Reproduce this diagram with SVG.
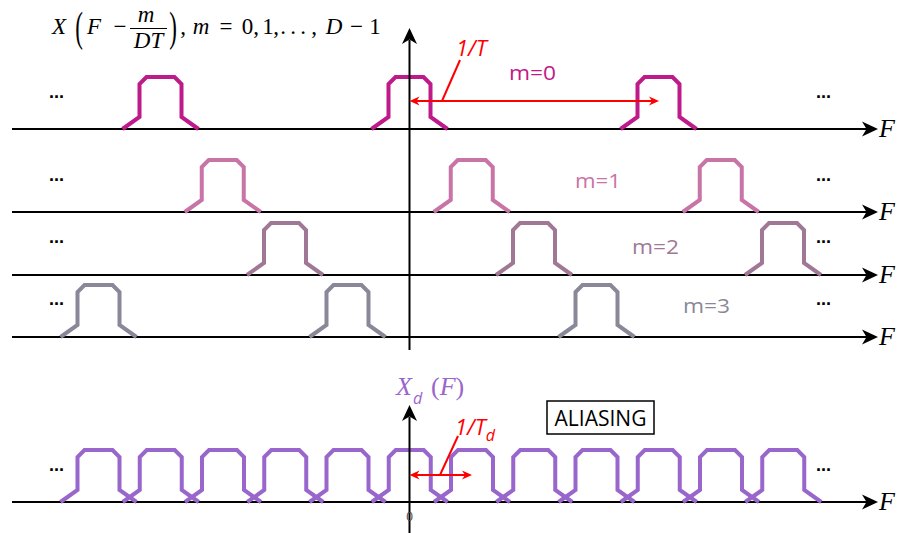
<svg xmlns="http://www.w3.org/2000/svg" xmlns:xlink="http://www.w3.org/1999/xlink" width="901" height="533" viewBox="0 0 901 533">
<style>
.ax{stroke:#000;stroke-width:2;fill:none}
.pl{fill:none;stroke-width:4;stroke-linejoin:miter}
.r0{stroke:#BF1A8A}.r1{stroke:#C874A6}.r2{stroke:#A07896}.r3{stroke:#898898}.rd{stroke:#9966CC}
.red{stroke:#FF0000;stroke-width:2;fill:none}
.mth{font-family:"Liberation Serif","DejaVu Serif",serif;font-size:23px;fill:#000;text-anchor:middle}
.it{font-style:italic}
.sans{font-family:"Open Sans","Liberation Sans",sans-serif}
.dots{font-family:"Liberation Sans",sans-serif;font-weight:bold;font-size:18px;fill:#000}
.FL{font-family:"Liberation Serif","DejaVu Serif",serif;font-style:italic;font-size:26px;fill:#000}
</style>
<defs>
<polyline id="pulse" points="-38,0 -21,-12 -21,-45 -14,-52 14,-52 21,-45 21,-12 38,0"/>
<path id="ah" d="M0,0 L-16,-7.5 L-11.5,0 L-16,7.5 Z" fill="#000"/>
<path id="rah" d="M0,0 L-10,-4.5 L-7,0 L-10,4.5 Z" fill="#FF0000"/>
</defs>

<g id="axes">
<line class="ax" x1="12" y1="129" x2="868" y2="129"/>
<use xlink:href="#ah" x="878" y="129"/>
<line class="ax" x1="12" y1="212" x2="868" y2="212"/>
<use xlink:href="#ah" x="878" y="212"/>
<line class="ax" x1="12" y1="275" x2="868" y2="275"/>
<use xlink:href="#ah" x="878" y="275"/>
<line class="ax" x1="12" y1="337" x2="868" y2="337"/>
<use xlink:href="#ah" x="878" y="337"/>
<line class="ax" x1="12" y1="502" x2="868" y2="502"/>
<use xlink:href="#ah" x="878" y="502"/>
<text class="FL" x="879" y="137">F</text>
<text class="FL" x="879" y="220">F</text>
<text class="FL" x="879" y="283">F</text>
<text class="FL" x="879" y="345">F</text>
<text class="FL" x="879" y="510">F</text>
</g>

<g id="row0" class="pl r0">
<use xlink:href="#pulse" x="160.5" y="129"/>
<use xlink:href="#pulse" x="409.5" y="129"/>
<use xlink:href="#pulse" x="658.5" y="129"/>
</g>
<g id="row1" class="pl r1">
<use xlink:href="#pulse" x="222.75" y="212"/>
<use xlink:href="#pulse" x="471.75" y="212"/>
<use xlink:href="#pulse" x="720.75" y="212"/>
</g>
<g id="row2" class="pl r2">
<use xlink:href="#pulse" x="285" y="275"/>
<use xlink:href="#pulse" x="534" y="275"/>
<use xlink:href="#pulse" x="783" y="275"/>
</g>
<g id="row3" class="pl r3">
<use xlink:href="#pulse" x="98.5" y="337"/>
<use xlink:href="#pulse" x="347.5" y="337"/>
<use xlink:href="#pulse" x="596.5" y="337"/>
</g>
<g id="rowd" class="pl rd">
<use xlink:href="#pulse" x="98.5" y="502"/>
<use xlink:href="#pulse" x="160.75" y="502"/>
<use xlink:href="#pulse" x="223" y="502"/>
<use xlink:href="#pulse" x="285.25" y="502"/>
<use xlink:href="#pulse" x="347.5" y="502"/>
<use xlink:href="#pulse" x="409.75" y="502"/>
<use xlink:href="#pulse" x="472" y="502"/>
<use xlink:href="#pulse" x="534.25" y="502"/>
<use xlink:href="#pulse" x="596.5" y="502"/>
<use xlink:href="#pulse" x="658.75" y="502"/>
<use xlink:href="#pulse" x="721" y="502"/>
<use xlink:href="#pulse" x="783.25" y="502"/>
</g>

<g id="vaxes">
<line class="ax" x1="409.5" y1="40" x2="409.5" y2="350"/>
<use xlink:href="#ah" transform="translate(409.5,28) rotate(-90)"/>
<line class="ax" x1="409.5" y1="417" x2="409.5" y2="533"/>
<use xlink:href="#ah" transform="translate(409.5,405) rotate(-90)"/>
<text x="409.5" y="521" text-anchor="middle" font-family="Liberation Sans,sans-serif" font-size="12" fill="#444">0</text>
</g>

<g id="connectors">
<line class="red" x1="414" y1="101" x2="653" y2="101"/>
<use xlink:href="#rah" transform="translate(409.5,101) rotate(180)"/>
<use xlink:href="#rah" x="659" y="101"/>
<line class="red" x1="442" y1="101" x2="460" y2="60"/>
<line class="red" x1="414" y1="475" x2="467" y2="475"/>
<use xlink:href="#rah" transform="translate(409.5,475) rotate(180)"/>
<use xlink:href="#rah" x="472" y="475"/>
<line class="red" x1="440" y1="475" x2="458" y2="436"/>
</g>

<g id="labels">
<text class="sans it" x="456" y="56" font-size="22" fill="#FF0000">1/T</text>
<text class="sans" x="509" y="80" font-size="20" textLength="47" lengthAdjust="spacingAndGlyphs" fill="#BF1A8A">m=0</text>
<text class="sans" x="575" y="188" font-size="20" textLength="46" lengthAdjust="spacingAndGlyphs" fill="#C874A6">m=1</text>
<text class="sans" x="632" y="254" font-size="20" textLength="47" lengthAdjust="spacingAndGlyphs" fill="#A07896">m=2</text>
<text class="sans" x="683" y="313" font-size="20" textLength="47" lengthAdjust="spacingAndGlyphs" fill="#898898">m=3</text>
<text class="sans it" x="455" y="435" font-size="22" fill="#FF0000">1/T<tspan font-size="16" dy="6">d</tspan></text>
</g>

<g id="dotsg">
<text class="dots" x="49" y="98">...</text>
<text class="dots" x="49" y="181">...</text>
<text class="dots" x="49" y="243">...</text>
<text class="dots" x="49" y="305">...</text>
<text class="dots" x="49" y="471">...</text>
<text class="dots" x="816" y="98">...</text>
<text class="dots" x="816" y="181">...</text>
<text class="dots" x="816" y="243">...</text>
<text class="dots" x="816" y="305">...</text>
<text class="dots" x="816" y="471">...</text>
</g>

<g id="xd-label" fill="#9966CC">
<text x="404" y="395" text-anchor="middle" font-family="Liberation Serif,serif" font-style="italic" font-size="26">X</text>
<text x="413" y="404" class="sans it" font-size="16">d</text>
<text x="431" y="395" font-family="Liberation Serif,serif" font-size="26">(<tspan font-style="italic">F</tspan>)</text>
</g>

<g id="aliasing">
<rect x="547" y="401" width="107" height="33" fill="#fff" stroke="#000" stroke-width="1.5"/>
<text x="600.5" y="426" text-anchor="middle" class="sans" font-size="21" fill="#000">ALIASING</text>
</g>

<g id="formula" class="mth">
<text x="59" y="34" class="it">X</text>
<text transform="translate(79,41) scale(1,1.85)">(</text>
<text x="94" y="34" class="it">F</text>
<text x="120" y="34">−</text>
<text x="146" y="22" class="it">m</text>
<line x1="130" y1="28.5" x2="167" y2="28.5" stroke="#000" stroke-width="1"/>
<text x="148.5" y="48" class="it">DT</text>
<text transform="translate(173,41) scale(1,1.85)">)</text>
<text x="183" y="34">,</text>
<text x="201" y="34" class="it">m</text>
<text x="226" y="34">=</text>
<text x="247.5" y="34">0</text>
<text x="256" y="34">,</text>
<text x="268" y="34">1</text>
<text x="276" y="34">,</text>
<text x="283" y="34">.</text>
<text x="293" y="34">.</text>
<text x="303" y="34">.</text>
<text x="314" y="34">,</text>
<text x="334" y="34" class="it">D</text>
<text x="356.5" y="34">−</text>
<text x="375" y="34">1</text>
</g>
</svg>
